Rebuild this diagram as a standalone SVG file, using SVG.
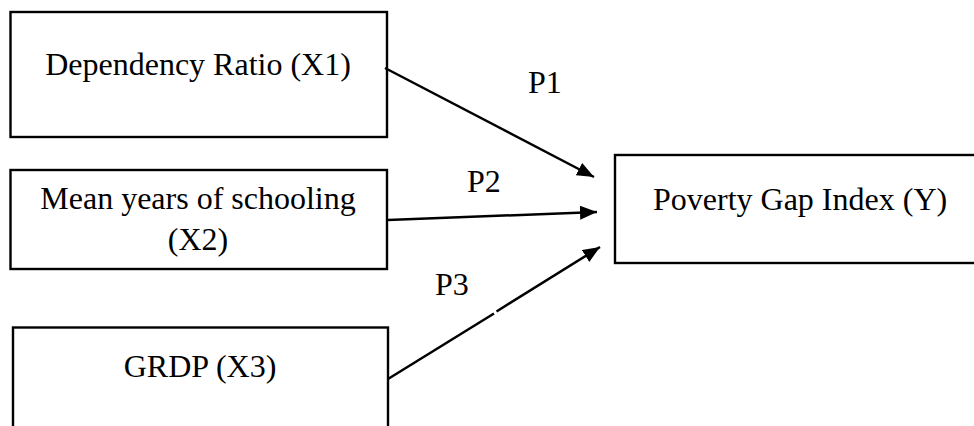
<svg xmlns="http://www.w3.org/2000/svg" width="974" height="426" viewBox="0 0 974 426">
  <style>
    .box { fill: #ffffff; stroke: #000000; stroke-width: 2.4; }
    .lbl { font-family: "Liberation Serif", "Times New Roman", serif; font-size: 32px; fill: #000000; }
    .mid { text-anchor: middle; }
    .edge { stroke: #000000; stroke-width: 2.5; fill: none; }
  </style>
  <defs>
    <marker id="arrow" viewBox="0 0 17 14" refX="17" refY="7" markerWidth="17" markerHeight="14" markerUnits="userSpaceOnUse" orient="auto">
      <path d="M0,0 L17,7 L0,14 Z" fill="#000000"/>
    </marker>
  </defs>
  <rect width="974" height="426" fill="#ffffff"/>

  <g id="node-x1">
    <rect class="box" x="10.5" y="12" width="376.5" height="125"/>
    <text class="lbl mid" x="198" y="75">Dependency Ratio (X1)</text>
  </g>

  <g id="node-x2">
    <rect class="box" x="10.5" y="170" width="376.5" height="99"/>
    <text class="lbl mid" x="198" y="209">Mean years of schooling</text>
    <text class="lbl mid" x="198" y="250">(X2)</text>
  </g>

  <g id="node-x3">
    <rect class="box" x="13" y="327.5" width="375" height="120"/>
    <text class="lbl mid" x="200" y="377">GRDP (X3)</text>
  </g>

  <g id="node-y">
    <rect class="box" x="615" y="155" width="380" height="108"/>
    <text class="lbl" x="653" y="210">Poverty Gap Index (Y)</text>
  </g>

  <g id="connectors">
    <line class="edge" x1="385" y1="68" x2="594" y2="177" marker-end="url(#arrow)"/>
    <line class="edge" x1="388" y1="220" x2="597" y2="212" marker-end="url(#arrow)"/>
    <line class="edge" x1="388" y1="379" x2="494" y2="313.5"/>
    <line class="edge" x1="496.5" y1="311.5" x2="600" y2="247" marker-end="url(#arrow)"/>
    <text class="lbl" x="528" y="93">P1</text>
    <text class="lbl" x="467" y="192">P2</text>
    <text class="lbl" x="435" y="295">P3</text>
  </g>
</svg>
